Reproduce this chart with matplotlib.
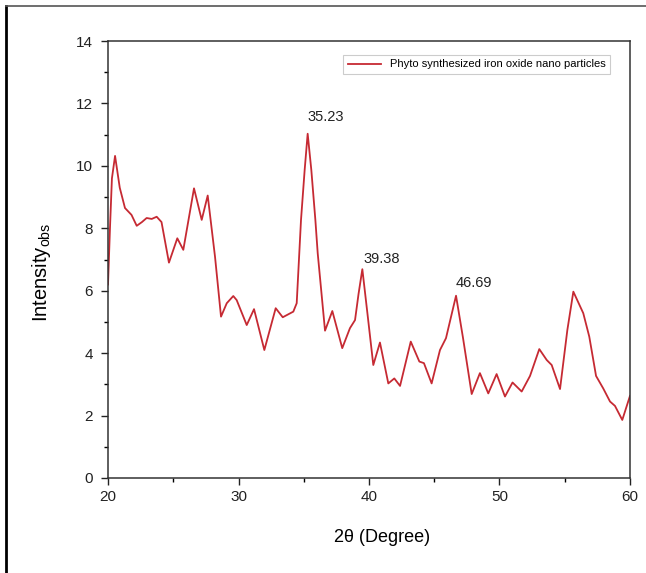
import numpy as np
import matplotlib
matplotlib.use("Agg")
import matplotlib.pyplot as plt
from matplotlib.lines import Line2D

plt.rcParams['font.family'] = ['Liberation Sans', 'DejaVu Sans']
plt.rcParams['mathtext.fontset'] = 'custom'
plt.rcParams['mathtext.rm'] = 'Liberation Sans'
plt.rcParams['mathtext.it'] = 'Liberation Sans'

# XRD pattern (2theta in degree, intensity)
two_theta = [20.0, 20.15, 20.3, 20.54, 20.9, 21.3, 21.8, 22.2, 22.6, 22.96, 23.35, 23.73, 24.1,
             24.67, 25.31, 25.77, 26.59, 27.18, 27.64, 28.2, 28.66, 29.1, 29.6, 29.86, 30.63,
             31.19, 31.98, 32.85, 33.39, 34.2, 34.46, 34.79, 35.07, 35.3, 35.58, 35.89, 36.07,
             36.63, 37.19, 37.95, 38.54, 38.93, 39.2, 39.49, 39.9, 40.33, 40.84, 41.48, 41.94,
             42.38, 43.2, 43.86, 44.21, 44.8, 45.44, 45.9, 46.67, 47.2, 47.87, 48.5, 49.14,
             49.78, 50.42, 51.0, 51.7, 52.34, 53.05, 53.62, 54.0, 54.64, 55.2, 55.66, 56.42,
             56.88, 57.4, 57.95, 58.47, 58.85, 59.41, 60.0]
intensity = [6.2, 8.0, 9.6, 10.32, 9.3, 8.65, 8.43, 8.08, 8.2, 8.33, 8.3, 8.37, 8.2,
             6.9, 7.68, 7.31, 9.28, 8.27, 9.05, 7.09, 5.17, 5.6, 5.83, 5.7, 4.9,
             5.41, 4.1, 5.44, 5.15, 5.33, 5.6, 8.27, 9.87, 11.03, 9.87, 8.27, 7.2,
             4.72, 5.35, 4.16, 4.8, 5.06, 5.9, 6.69, 5.2, 3.62, 4.34, 3.03, 3.19,
             2.95, 4.37, 3.73, 3.68, 3.03, 4.1, 4.48, 5.84, 4.5, 2.69, 3.36, 2.71,
             3.33, 2.61, 3.06, 2.77, 3.27, 4.13, 3.78, 3.62, 2.85, 4.74, 5.97, 5.28,
             4.53, 3.27, 2.87, 2.45, 2.31, 1.86, 2.63]

peak_labels = ['35.23', '39.38', '46.69']
peak_x = [35.3, 39.49, 46.67]
peak_y = [11.03, 6.69, 5.84]
label_offsets = [(13, 12), (14, 7), (13, 9)]

fig = plt.figure(figsize=(6.46, 5.73), dpi=100)
ax = fig.add_axes([0.1672, 0.1658, 0.808, 0.7626])

ax.plot(two_theta, intensity, color='#c62a33', lw=1.3, solid_joinstyle='round',
        label='Phyto synthesized iron oxide nano particles')

for lab, px, py, off in zip(peak_labels, peak_x, peak_y, label_offsets):
    ax.annotate(lab, (px, py), xytext=off, textcoords='offset points',
                ha='center', va='center', fontsize=10.5, color='#222222')

ax.set_xlim(20, 60)
ax.set_ylim(0, 14)
ax.set_xticks([20, 30, 40, 50, 60])
ax.set_xticks([25, 35, 45, 55], minor=True)
ax.set_yticks(range(0, 15, 2))
ax.set_yticks(range(1, 14, 2), minor=True)
ax.tick_params(which='major', direction='out', length=5, width=1, labelsize=11, colors='#222222')
ax.tick_params(axis='y', which='major', pad=6)
ax.tick_params(which='minor', direction='out', length=3, width=1)
for s in ax.spines.values():
    s.set_linewidth(1.1)
    s.set_color('#333333')

ax.set_xlabel('2θ (Degree)', fontsize=13)
ax.xaxis.set_label_coords(0.525, -0.117)
ax.set_ylabel('Intensity$_{\\mathrm{obs}}$', fontsize=14.5)
ax.yaxis.set_label_coords(-0.105, 0.47)

leg = ax.legend(loc='upper right', bbox_to_anchor=(0.9617, 0.968), borderaxespad=0,
                fontsize=8, handlelength=3.0, fancybox=False, framealpha=1)
leg.get_frame().set_edgecolor('#cccccc')
leg.get_frame().set_linewidth(0.8)

# outer frame of the picture (left and top edges)
fig.add_artist(Line2D([0.01, 0.01], [0.0, 0.99], color='black', lw=2))
fig.add_artist(Line2D([0.01, 1.0], [0.99, 0.99], color='#555555', lw=1.2))

fig.savefig('out.png', dpi=100)
